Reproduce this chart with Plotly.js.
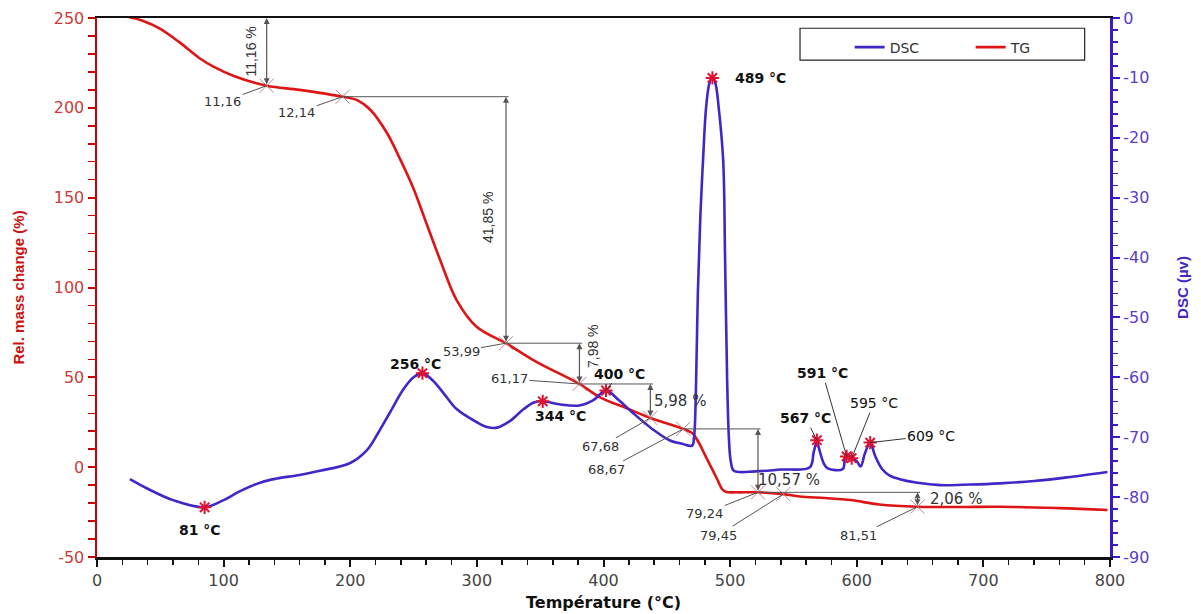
<!DOCTYPE html>
<html>
<head>
<meta charset="utf-8">
<script src="https://cdn.plot.ly/plotly-3.0.1.min.js"></script>
<style>html,body{margin:0;padding:0;background:#fff;}#chart{width:1201px;height:614px;}</style>
</head>
<body>
<div id="chart"></div>
<script>
// ---- TG curve (left axis, %) ----
const tempTG = [25, 36, 50, 66, 81, 92, 108, 134, 160, 194, 205, 216, 229, 239, 250, 260, 271, 284, 300, 323, 347, 381, 397, 420, 437, 463, 470, 475, 480, 485, 490, 494, 497, 505, 522, 542, 555, 575, 595, 618, 648, 680, 713, 760, 798];
const massTG = [250.5, 248.5, 244, 236, 227.6, 222.9, 217.7, 212.3, 210, 206.2, 204.4, 198.8, 186, 172, 155, 136, 115.3, 93, 78, 69, 58.6, 46.3, 39, 32.3, 27.4, 21.3, 19, 14, 7, 0, -7, -12.5, -13.8, -14, -14, -15, -16.3, -17.2, -18.3, -20.8, -22, -22.2, -22, -22.8, -23.8];

// ---- DSC curve (right axis, µV) ----
const tempDSC = [26, 40, 60, 85, 100, 113, 130, 142, 160, 176, 200, 213, 222, 231, 242, 250, 257, 265, 275, 284, 300, 308, 316, 326, 337, 345, 352, 365, 381, 392, 402, 412, 423, 439, 452, 462, 470, 471.5, 473, 474.5, 476.5, 478.6, 481, 483.5, 486, 488.5, 491, 494.5, 496, 497.6, 499, 500.5, 503, 520, 540, 563, 566, 568.5, 571, 574, 577, 589, 591, 594, 597, 600, 603, 606.6, 610.6, 614.5, 620, 626, 634, 648, 666, 690, 713, 740, 766, 798];
const dscVal = [-77, -78.6, -80.5, -81.7, -80.5, -79, -77.5, -76.9, -76.3, -75.6, -74.3, -72.2, -69.3, -66, -62, -60, -59.3, -60.5, -63, -65.3, -67.5, -68.3, -68.4, -67.3, -65.3, -64.2, -64, -64.5, -64.7, -63.8, -62.2, -63.8, -65.9, -68.7, -70.5, -71.1, -71.4, -70, -62, -46, -33, -23.7, -15, -11, -9.8, -11, -15, -23.7, -40, -60, -70, -74, -75.6, -75.7, -75.4, -75, -72.5, -70.8, -72.5, -74.4, -75.2, -75.3, -73.3, -73.1, -73.6, -74, -74.9, -72.6, -70.9, -73.1, -75.3, -76.4, -77, -77.6, -78, -77.9, -77.7, -77.3, -76.7, -75.8];

// ---- TG step points ----
const stepTemp = [134, 194, 323, 381, 437, 463, 522, 542, 648];
const stepMass = [212.3, 206.2, 69, 46.3, 27.4, 21.3, -14, -15, -22];
const stepLabel = ['11,16', '12,14', '53,99', '61,17', '67,68', '68,67', '79,24', '79,45', '81,51'];

// ---- mass-loss brackets ----
const lossLabel = ['11,16 %', '41,85 %', '7,98 %', '5,98 %', '10,57 %', '2,06 %'];

// ---- DSC peaks ----
const peakTemp = [85, 257, 352, 402, 486, 568.5, 592, 596, 610.6];
const peakDsc = [-81.7, -59.3, -64, -62.2, -10, -70.5, -73.2, -73.5, -70.9];
const peakLabel = ['81 °C', '256 °C', '344 °C', '400 °C', '489 °C', '567 °C', '591 °C', '595 °C', '609 °C'];

// ---- tick labels ----
const xTicks = [0, 100, 200, 300, 400, 500, 600, 700, 800];
const yTicks = [-50, 0, 50, 100, 150, 200, 250];
const yTickText = ['-50', '0', '50', '100', '150', '200', '250'];
const y2Ticks = [-90, -80, -70, -60, -50, -40, -30, -20, -10, 0];
const y2TickText = ['-90', '-80', '-70', '-60', '-50', '-40', '-30', '-20', '-10', '0'];

const RED = '#dd1515', BLUE = '#4326c8', GREY = '#555555';
const FONT = 'Liberation Sans, Arial, sans-serif';
const WIDE = 'DejaVu Sans, Verdana, sans-serif';

const traces = [
  {x: tempDSC, y: dscVal, name: 'DSC', yaxis: 'y2', mode: 'lines',
   line: {color: BLUE, width: 2.6, shape: 'spline', smoothing: 1}},
  {x: tempTG, y: massTG, name: 'TG', yaxis: 'y', mode: 'lines',
   line: {color: RED, width: 2.6, shape: 'spline', smoothing: 1}},
  {x: stepTemp, y: stepMass, yaxis: 'y', mode: 'markers', showlegend: false, hoverinfo: 'skip',
   marker: {symbol: 'x-thin-open', size: 14, color: '#b88890', line: {width: 1, color: '#b88890'}}},
  {x: peakTemp, y: peakDsc, yaxis: 'y2', mode: 'markers', showlegend: false, hoverinfo: 'skip',
   marker: {symbol: 'asterisk-open', size: 11, color: '#e01030', line: {width: 2, color: '#e01030'}}}
];

const ann = [];
const shapes = [];
const lineStyle = {color: GREY, width: 1};

// step labels with leader lines
const stepOff = [[-44, 16], [-46, 16], [-45, 8], [-70, -5], [-50, 29], [-77, 41], [-53, 21], [-65, 41], [-59, 29]];
stepLabel.forEach((t, i) => {
  ann.push({x: stepTemp[i], y: stepMass[i], xref: 'x', yref: 'y', text: t, showarrow: true,
    arrowhead: 0, arrowwidth: 1, arrowcolor: GREY, ax: stepOff[i][0], ay: stepOff[i][1],
    font: {family: WIDE, size: 13, color: '#333'}});
});

// brackets: [x, yTop, yBottom, hStart]
const br = [
  [stepTemp[0], massTG[0] - 0.5, stepMass[0], null],
  [stepTemp[2], stepMass[1], stepMass[2], stepTemp[1]],
  [stepTemp[3], stepMass[2], stepMass[3], stepTemp[2]],
  [stepTemp[4], stepMass[3], stepMass[4], stepTemp[3]],
  [stepTemp[6], stepMass[5], stepMass[6], stepTemp[5]],
  [stepTemp[8], stepMass[6], stepMass[8], stepTemp[6]]
];
br.forEach((b, i) => {
  ann.push({x: b[0], y: b[1], ax: b[0], ay: b[2], xref: 'x', yref: 'y', axref: 'x', ayref: 'y',
    text: '', showarrow: true, arrowhead: 2, arrowsize: 1, arrowwidth: 1.2, arrowcolor: GREY,
    arrowside: 'end+start', standoff: 0, startstandoff: 0});
  if (b[3] !== null) {
    shapes.push({type: 'line', xref: 'x', yref: 'y', x0: b[3], x1: b[0] + 2, y0: b[1], y1: b[1], line: lineStyle});
  }
});
// bracket texts
const mid = (a, b) => (a + b) / 2;
ann.push({x: br[0][0], y: mid(br[0][1], br[0][2]), xref: 'x', yref: 'y', text: lossLabel[0], showarrow: false,
  textangle: -90, xshift: -16, font: {family: FONT, size: 14, color: '#333'}});
ann.push({x: br[1][0], y: mid(br[1][1], br[1][2]), xref: 'x', yref: 'y', text: lossLabel[1], showarrow: false,
  textangle: -90, xshift: -18, yshift: 2, font: {family: FONT, size: 14, color: '#333'}});
ann.push({x: br[2][0], y: mid(br[2][1], br[2][2]), xref: 'x', yref: 'y', text: lossLabel[2], showarrow: false,
  textangle: -90, xshift: 13, yshift: 18, font: {family: FONT, size: 14, color: '#333'}});
ann.push({x: br[3][0], y: mid(br[3][1], br[3][2]), xref: 'x', yref: 'y', text: lossLabel[3], showarrow: false,
  xanchor: 'left', xshift: 2, yshift: 0, font: {family: WIDE, size: 15, color: '#333'}});
ann.push({x: br[4][0], y: mid(br[4][1], br[4][2]), xref: 'x', yref: 'y', text: lossLabel[4], showarrow: false,
  xanchor: 'left', xshift: -2, yshift: -19, font: {family: WIDE, size: 15, color: '#333'}});
ann.push({x: br[5][0], y: mid(br[5][1], br[5][2]), xref: 'x', yref: 'y', text: lossLabel[5], showarrow: false,
  xanchor: 'left', xshift: 10, yshift: 1, font: {family: WIDE, size: 15, color: '#333'}});

// DSC peak labels
const peakOpt = [
  {shift: [-5, -23], bold: true},
  {shift: [-7, 9], bold: true},
  {shift: [18, -15], bold: true},
  {arrow: [13, -17], bold: true},
  {shift: [48, 0], bold: true},
  {arrow: [-11, -22], bold: true},
  {arrow: [-24, -83], bold: true},
  {arrow: [22, -55], bold: false},
  {arrow: [61, -7], bold: false}
];
peakLabel.forEach((t, i) => {
  const o = peakOpt[i];
  const a = {x: peakTemp[i], y: peakDsc[i], xref: 'x', yref: 'y2',
    text: o.bold ? '<b>' + t + '</b>' : t,
    font: {family: WIDE, size: 14, color: '#111'}};
  if (o.arrow) {
    Object.assign(a, {showarrow: true, arrowhead: 0, arrowwidth: 1, arrowcolor: '#333', ax: o.arrow[0], ay: o.arrow[1]});
  } else {
    Object.assign(a, {showarrow: false, xshift: o.shift[0], yshift: o.shift[1]});
  }
  ann.push(a);
});

// legend box
shapes.push({type: 'rect', xref: 'paper', yref: 'paper', x0: 0.694, x1: 0.975, y0: 0.922, y1: 0.981,
  line: {color: '#222', width: 1.2}, fillcolor: 'rgba(255,255,255,1)', layer: 'below'});

const layout = {
  width: 1201, height: 614,
  margin: {l: 97, r: 91, t: 18, b: 57},
  paper_bgcolor: '#fff', plot_bgcolor: '#fff',
  font: {family: FONT, size: 15, color: '#333'},
  showlegend: true,
  legend: {orientation: 'h', x: 0.743, y: 0.975, xanchor: 'left', yanchor: 'top',
    bgcolor: 'rgba(0,0,0,0)', borderwidth: 0, entrywidth: 76, entrywidthmode: 'pixels',
    font: {family: WIDE, size: 14, color: '#333'}, itemwidth: 30},
  xaxis: {range: [0, 800], tickvals: xTicks, showgrid: false, zeroline: false,
    showline: true, linecolor: '#111', linewidth: 2.5, mirror: true,
    ticks: 'outside', ticklen: 7, tickwidth: 2, tickcolor: '#111',
    minor: {dtick: 20, ticks: 'outside', ticklen: 5, tickwidth: 1.5, tickcolor: '#111'},
    tickfont: {family: WIDE, size: 16, color: '#444'},
    title: {text: '<b>Température (°C)</b>', font: {family: WIDE, size: 16, color: '#111'}, standoff: 8}},
  yaxis: {range: [-50, 250], tickvals: yTicks, ticktext: yTickText, showgrid: false, zeroline: false,
    showline: true, linecolor: '#c80000', linewidth: 2.5,
    ticks: 'outside', ticklen: 7, tickwidth: 2, tickcolor: '#c80000',
    minor: {dtick: 10, ticks: 'outside', ticklen: 7, tickwidth: 1.5, tickcolor: '#c80000'},
    tickfont: {family: WIDE, size: 16, color: '#cc3b3b'},
    title: {text: '<b>Rel. mass change (%)</b>', font: {family: FONT, size: 15, color: '#cc1111'}, standoff: 26}},
  yaxis2: {range: [-90, 0], tickvals: y2Ticks, ticktext: y2TickText, overlaying: 'y', side: 'right',
    showgrid: false, zeroline: false,
    showline: true, linecolor: '#3a18c8', linewidth: 3,
    ticks: 'outside', ticklen: 7, tickwidth: 2, tickcolor: '#3a18c8',
    minor: {dtick: 2, ticks: 'outside', ticklen: 5, tickwidth: 1.5, tickcolor: '#3a18c8'},
    tickfont: {family: WIDE, size: 16, color: '#5a3ec8'},
    title: {text: '<b>DSC (µv)</b>', font: {family: FONT, size: 15, color: '#4326c8'}, standoff: 30}},
  annotations: ann,
  shapes: shapes
};

Plotly.newPlot('chart', traces, layout, {displayModeBar: false, staticPlot: true});
</script>
</body>
</html>
